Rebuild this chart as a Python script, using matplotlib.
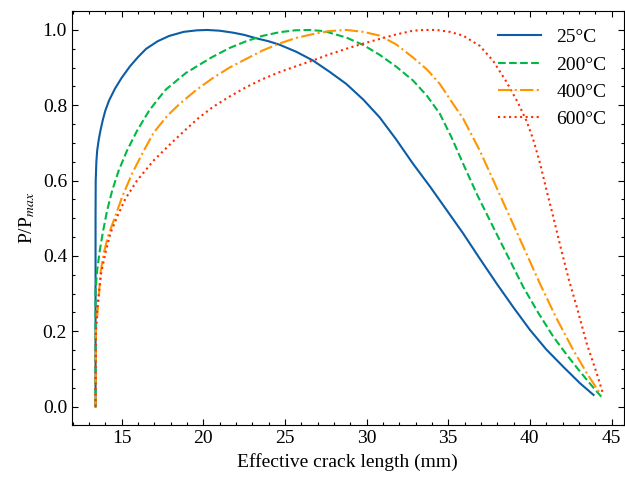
import numpy as np
import matplotlib
matplotlib.use("Agg")
import matplotlib.pyplot as plt

# Datos (longitud efectiva de grieta en mm, P/Pmax)
x_25 = [13.40, 13.40, 13.40, 13.41, 13.45, 13.50, 13.60, 13.70, 13.85, 14.00, 14.23,
        14.60, 15.00, 15.50, 16.00, 16.50, 17.20, 17.90, 18.80, 19.60, 20.25, 21.00,
        21.80, 22.50, 23.23, 24.00, 24.66, 25.70, 26.71, 27.70, 28.75, 29.80, 30.80,
        31.80, 32.84, 33.87, 34.90, 35.91, 36.90, 37.96, 39.00, 40.00, 41.00, 42.04,
        43.07, 43.90]
y_25 = [0.0, 0.30, 0.50, 0.60, 0.65, 0.68, 0.71, 0.733, 0.762, 0.786, 0.813,
        0.845, 0.873, 0.903, 0.928, 0.950, 0.970, 0.984, 0.995, 0.999, 1.0, 0.998,
        0.993, 0.987, 0.978, 0.970, 0.961, 0.942, 0.919, 0.890, 0.857, 0.815, 0.768,
        0.710, 0.645, 0.585, 0.522, 0.46, 0.395, 0.327, 0.263, 0.204, 0.152, 0.106,
        0.062, 0.031]

x_200 = [13.40, 13.40, 13.50, 13.66, 13.87, 14.11, 14.42, 14.82, 15.33, 15.95, 16.67,
         17.20, 17.71, 18.94, 20.50, 21.60, 22.62, 23.60, 24.66, 25.60, 26.50, 27.40,
         28.75, 29.80, 30.80, 31.80, 32.84, 33.70, 34.48, 35.20, 35.91, 36.80, 37.75,
         38.70, 39.59, 40.50, 41.43, 42.25, 43.07, 43.80, 44.50]
y_200 = [0.0, 0.31, 0.362, 0.415, 0.468, 0.521, 0.574, 0.627, 0.68, 0.733, 0.785,
         0.815, 0.842, 0.886, 0.927, 0.952, 0.970, 0.984, 0.994, 0.999, 1.0, 0.997,
         0.980, 0.960, 0.934, 0.903, 0.866, 0.825, 0.778, 0.715, 0.645, 0.56, 0.477,
         0.395, 0.318, 0.25, 0.186, 0.138, 0.093, 0.055, 0.02]

x_400 = [13.40, 13.42, 13.60, 13.70, 13.90, 14.15, 14.52, 15.03, 15.64, 16.36, 16.97,
         17.79, 18.53, 19.55, 20.57, 21.60, 22.62, 23.60, 24.66, 25.70, 26.71, 27.70,
         28.75, 29.80, 30.80, 31.80, 32.84, 33.70, 34.48, 35.20, 35.91, 36.93, 37.80,
         38.77, 39.70, 40.61, 41.60, 42.66, 43.50, 44.35]
y_400 = [0.0, 0.20, 0.29, 0.354, 0.407, 0.451, 0.495, 0.557, 0.619, 0.68, 0.728,
         0.772, 0.803, 0.84, 0.872, 0.90, 0.923, 0.945, 0.964, 0.979, 0.989, 0.997,
         1.0, 0.995, 0.985, 0.962, 0.927, 0.895, 0.857, 0.81, 0.765, 0.68, 0.597,
         0.504, 0.415, 0.327, 0.237, 0.15, 0.088, 0.031]

x_600 = [13.40, 13.42, 13.50, 13.60, 13.74, 14.00, 14.31, 14.72, 15.23, 15.95, 16.97,
         18.00, 18.91, 19.70, 20.57, 21.60, 22.62, 23.60, 24.66, 25.70, 26.71, 27.70,
         28.75, 29.80, 30.80, 31.80, 32.84, 33.50, 34.28, 35.10, 35.91, 36.93, 37.75,
         38.57, 39.28, 39.80, 40.20, 40.61, 41.02, 41.43, 41.90, 42.40, 42.87, 43.48,
         44.09, 44.50]
y_600 = [0.0, 0.20, 0.26, 0.30, 0.354, 0.407, 0.46, 0.504, 0.552, 0.601, 0.654,
         0.698, 0.735, 0.766, 0.795, 0.823, 0.848, 0.869, 0.888, 0.904, 0.919, 0.935,
         0.950, 0.964, 0.976, 0.988, 0.998, 1.0, 1.0, 0.995, 0.985, 0.958, 0.918,
         0.862, 0.806, 0.758, 0.71, 0.648, 0.575, 0.504, 0.42, 0.335, 0.265, 0.168,
         0.089, 0.031]

etiquetas = ['25°C', '200°C', '400°C', '600°C']
colores = ['#0C5DA5', '#00B945', '#FF9500', '#FF2C00']
estilos = ['-', '--', '-.', ':']

plt.rcParams['font.family'] = ['Liberation Serif', 'DejaVu Serif']
plt.rcParams['mathtext.fontset'] = 'stix'
plt.rcParams['font.size'] = 14

fig, ax = plt.subplots(figsize=(6.25, 4.84), dpi=100)
fig.subplots_adjust(left=0.115, right=0.998, top=0.977, bottom=0.121)

series = [(x_25, y_25), (x_200, y_200), (x_400, y_400), (x_600, y_600)]
for (xs, ys), lab, col, ls in zip(series, etiquetas, colores, estilos):
    ax.plot(xs, ys, color=col, linestyle=ls, lw=1.5, label=lab)

ax.set_xlabel('Effective crack length (mm)')
ax.set_ylabel('P/P$_{max}$')
ax.set_xlim(11.95, 45.75)
ax.set_xticks([15, 20, 25, 30, 35, 40, 45])
ax.set_yticks([0.0, 0.2, 0.4, 0.6, 0.8, 1.0])
ax.xaxis.set_minor_locator(matplotlib.ticker.MultipleLocator(1))
ax.yaxis.set_minor_locator(matplotlib.ticker.MultipleLocator(0.05))
ax.tick_params(which='both', direction='in', top=True, right=True)
ax.tick_params(which='major', length=4.5, width=0.8)
ax.tick_params(which='minor', length=2.3, width=0.8)

ax.legend(frameon=False, loc='upper right', handlelength=2.2)

plt.savefig('out.png', dpi=100)
